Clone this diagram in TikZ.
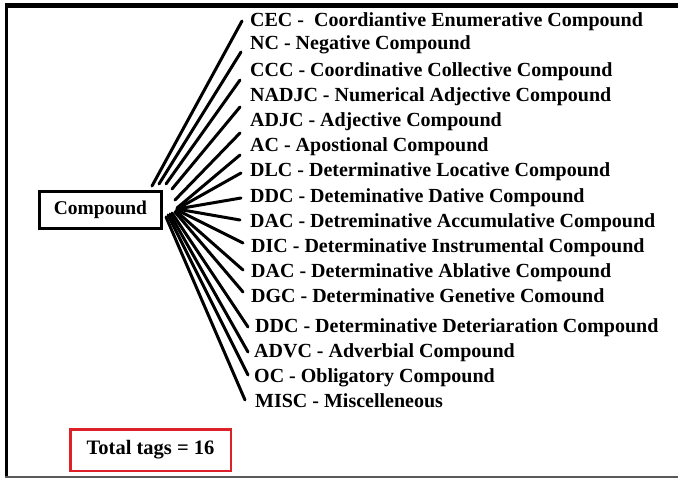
\documentclass[tikz,border=0pt]{standalone}
\usepackage{fontspec}
\setmainfont{Liberation Serif}
\definecolor{tagred}{RGB}{222,32,40}
\begin{document}
\begin{tikzpicture}[x=1pt,y=-1pt,
  tag/.style={anchor=base west, inner sep=0pt, font=\fontsize{20}{24}\selectfont\bfseries},
  link/.style={line width=3pt, line cap=round}]
\useasboundingbox (0,0) rectangle (678,480);
% outer frame: heavy top and left rules, light bottom rule
\draw[line width=5pt] (4.8,5.8) -- (678,5.8);
\draw[line width=3.5pt] (6.6,3.3) -- (6.6,478);
\draw[line width=2pt, black!65] (4.8,477) -- (678,477);

% root box
\node[draw, line width=3pt, minimum width=122pt, minimum height=37pt, inner sep=0pt,
      font=\fontsize{19.5}{24}\selectfont\bfseries] (root) at (100.5,210) {Compound};

% tags: index / label x / baseline / text / start shift from root.east / end shift from label
\foreach \i/\lx/\ly/\txt/\sx/\sy/\ex/\ey in {
  1/250/26.6/{CEC -\ \ Coordiantive Enumerative Compound}/-11/-24/-8/-5.6,
  2/250/49.6/{NC - Negative Compound}/-4/-26/-9/2.4,
  3/250/76.6/{CCC - Coordinative Collective Compound}/3/-26/-10/3.4,
  4/250/101.6/{NADJC - Numerical Adjective Compound}/9/-21/-10/5.4,
  5/250/126.6/{ADJC - Adjective Compound}/12/-10/-10/6.4,
  6/250/151.6/{AC - Apostional Compound}/14/-2/-10/3.4,
  7/250/176.6/{DLC - Determinative Locative Compound}/14/-1/-9/-3.6,
  8/250/202.6/{DDC - Deteminative Dative Compound}/14/-1/-9/-4.6,
  9/250/227.6/{DAC - Detreminative Accumulative Compound}/14/-1/-10/-7.6,
  10/251/252.6/{DIC - Determinative Instrumental Compound}/14/0/-8/-9.6,
  11/251/277.6/{DAC - Determinative Ablative Compound}/13/1/-8/-7.6,
  12/251/302.6/{DGC - Determinative Genetive Comound}/12/2/-8/-10.6,
  13/255/332.6/{DDC - Determinative Deteriaration Compound}/9/3/-7/-5.6,
  14/254/357.6/{ADVC - Adverbial Compound}/7/4/-6/-5.6,
  15/254/382.6/{OC - Obligatory Compound}/5/5/-6/-7.6,
  16/255/407.6/{MISC - Miscelleneous}/3/7/-10/-7.6}
{
  \node[tag] (t\i) at (\lx,\ly) {\txt};
  \coordinate (s\i) at ([shift={(\sx,\sy)}]root.east);
  \draw[link] (s\i) -- ([shift={(\ex,\ey)}]t\i.base west);
}

% tag count
\node[draw=tagred, line width=2.5pt, minimum width=160.5pt, minimum height=41.5pt, inner sep=0pt,
      font=\fontsize{20.5}{24}\selectfont\bfseries] (total) at (150.5,450) {Total tags = 16};
\end{tikzpicture}
\end{document}
